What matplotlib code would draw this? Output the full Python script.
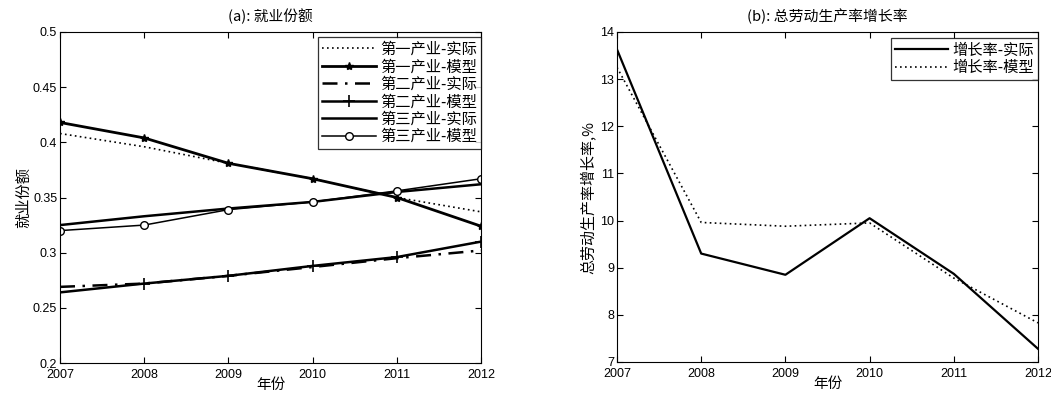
import matplotlib
matplotlib.use("Agg")
import matplotlib.pyplot as plt

plt.rcParams['font.family'] = ['Liberation Sans', 'Noto Sans CJK SC', 'DejaVu Sans']
cjk = ['Noto Sans CJK SC', 'DejaVu Sans']

years = [2007, 2008, 2009, 2010, 2011, 2012]

# employment shares by sector
primary_actual = [0.408, 0.396, 0.381, 0.367, 0.350, 0.337]
primary_model = [0.418, 0.404, 0.381, 0.367, 0.350, 0.324]
secondary_actual = [0.269, 0.272, 0.279, 0.287, 0.295, 0.302]
secondary_model = [0.264, 0.272, 0.279, 0.288, 0.296, 0.310]
tertiary_actual = [0.325, 0.333, 0.340, 0.346, 0.355, 0.362]
tertiary_model = [0.320, 0.325, 0.339, 0.346, 0.356, 0.367]

# aggregate labour productivity growth, %
growth_actual = [13.63, 9.30, 8.85, 10.05, 8.87, 7.28]
growth_model = [13.25, 9.96, 9.88, 9.95, 8.78, 7.83]

labels_a = ['第一产业-实际', '第一产业-模型', '第二产业-实际', '第二产业-模型',
            '第三产业-实际', '第三产业-模型']
labels_b = ['增长率-实际', '增长率-模型']

fig = plt.figure(figsize=(10.51, 3.96), dpi=100)
W, H = 1051, 396
ax1 = fig.add_axes([60 / W, 1 - 363 / H, 421 / W, 331 / H])
ax2 = fig.add_axes([617 / W, 1 - 362 / H, 421 / W, 330 / H])

k = 'black'
ax1.plot(years, primary_actual, color=k, lw=1.2, ls=(0, (1, 2)), label=labels_a[0])
ax1.plot(years, primary_model, color=k, lw=2.0, marker='*', ms=6, label=labels_a[1])
ax1.plot(years, secondary_actual, color=k, lw=1.8, ls=(0, (6, 3, 1, 3)), label=labels_a[2])
ax1.plot(years, secondary_model, color=k, lw=1.8, marker='+', ms=8, mew=1.2, label=labels_a[3])
ax1.plot(years, tertiary_actual, color=k, lw=1.8, label=labels_a[4])
ax1.plot(years, tertiary_model, color=k, lw=1.1, marker='o', ms=5.5, mfc='white', mew=1.0,
         label=labels_a[5])

ax1.set_xlim(2007, 2012)
ax1.set_ylim(0.2, 0.5)
ax1.set_yticks([0.2, 0.25, 0.3, 0.35, 0.4, 0.45, 0.5])
ax1.set_yticklabels(['0.2', '0.25', '0.3', '0.35', '0.4', '0.45', '0.5'])
ax1.set_title('(a): 就业份额', fontsize=10.6, family=cjk, pad=8)
ax1.set_xlabel('年份', fontsize=10.5, family=cjk, labelpad=-2)
ax1.set_ylabel('就业份额', fontsize=11, family=cjk, labelpad=1)
leg1 = ax1.legend(loc='upper right', bbox_to_anchor=(1.0, 1 - 5 / 331),
                  prop={'family': cjk, 'size': 11},
                  frameon=True, fancybox=False, edgecolor='black', borderaxespad=0,
                  handlelength=3.5, handletextpad=0.3, labelspacing=0.03, borderpad=0.25)
leg1.get_frame().set_linewidth(0.9)

ax2.plot(years, growth_actual, color=k, lw=1.6, label=labels_b[0])
ax2.plot(years, growth_model, color=k, lw=1.2, ls=(0, (1, 2)), label=labels_b[1])
ax2.set_xlim(2007, 2012)
ax2.set_ylim(7, 14)
ax2.set_yticks(range(7, 15))
ax2.set_title('(b): 总劳动生产率增长率', fontsize=10.7, family=cjk, pad=8)
ax2.set_xlabel('年份', fontsize=10.5, family=cjk, labelpad=-2)
ax2.set_ylabel('总劳动生产率增长率,%', fontsize=10.8, family=cjk, labelpad=3)
leg2 = ax2.legend(loc='upper right', bbox_to_anchor=(1.0, 1 - 6 / 330),
                  prop={'family': cjk, 'size': 11},
                  frameon=True, fancybox=False, edgecolor='black', borderaxespad=0,
                  handlelength=3.5, handletextpad=0.3, labelspacing=0.03, borderpad=0.25)
leg2.get_frame().set_linewidth(0.9)

for ax in (ax1, ax2):
    ax.set_xticks(years)
    ax.tick_params(direction='in', top=True, right=True, length=4, width=0.8,
                   labelsize=9, pad=2)
    ax.tick_params(axis='x', pad=4.5)
    for s in ax.spines.values():
        s.set_linewidth(0.8)

fig.savefig('out.png', dpi=100)
